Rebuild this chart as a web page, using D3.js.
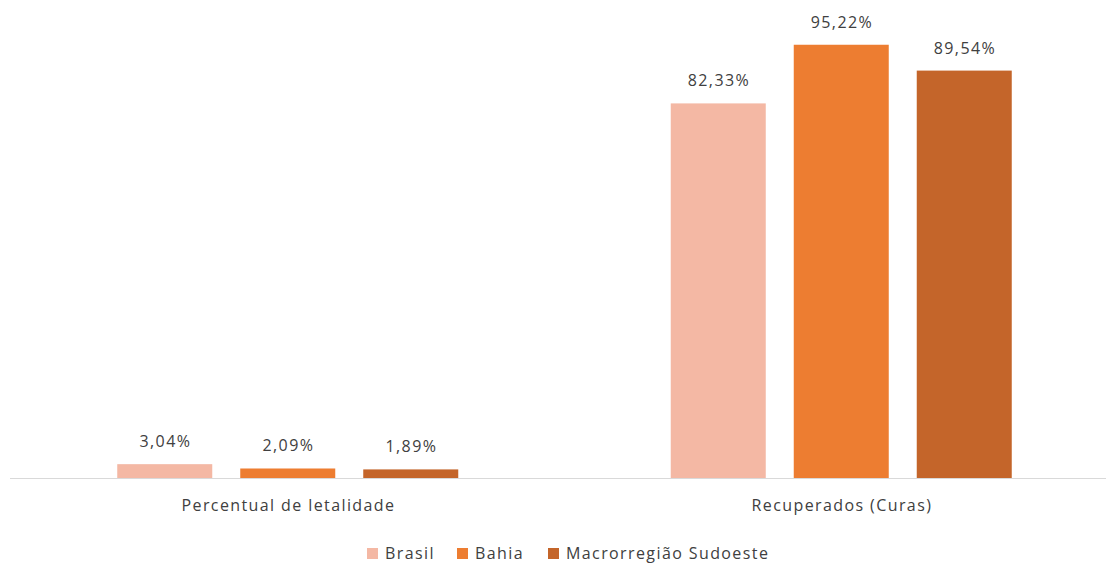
<!DOCTYPE html>
<html>
<head>
<meta charset="utf-8">
<script src="https://cdn.jsdelivr.net/npm/d3@7"></script>
<style>
  body { margin: 0; background: #fff; }
  text { font-family: "Open Sans", sans-serif; fill: #404040; letter-spacing: 1.4px; }
</style>
</head>
<body>
<svg id="svg" width="1106" height="567"></svg>
<script>
// dados
var categorias = ["Percentual de letalidade", "Recuperados (Curas)"]
var series = ["Brasil", "Bahia", "Macrorregião Sudoeste"]
var brasil = [3.04, 82.33]
var bahia = [2.09, 95.22]
var macro = [1.89, 89.54]
var cores = ["#F4B8A4", "#ED7D31", "#C4652A"]

var valores = [brasil, bahia, macro]
var svg = d3.select("svg"),
    width = 1106,
    height = 567

var x0 = d3.scaleBand().domain(categorias).range([11, 1118])
var meio = x0.bandwidth() / 2
var x1 = d3.scaleBand().domain(series).range([meio - 170.5, meio + 170.5])
    .paddingInner(0.2276).paddingOuter(0)
var y = d3.scaleLinear().domain([0, 100]).range([478, 23])
var cor = d3.scaleOrdinal().domain(series).range(cores)

var fmt = function(v) { return d3.format(".2f")(v).replace(".", ",") + "%" }

// eixo
svg.append("line")
  .attr("x1", 10).attr("x2", 1106)
  .attr("y1", y(0) + 0.5).attr("y2", y(0) + 0.5)
  .attr("stroke", "#d9d9d9").attr("stroke-width", 1)

var grupos = svg.selectAll("g.grupo")
  .data(categorias)
  .enter().append("g")
  .attr("class", "grupo")
  .attr("transform", function(d) { return "translate(" + x0(d) + ",0)" })

grupos.selectAll("rect")
  .data(function(d, i) { return series.map(function(s, j) { return {s: s, v: valores[j][i]} }) })
  .enter().append("rect")
  .attr("x", function(d) { return x1(d.s) })
  .attr("width", x1.bandwidth())
  .attr("y", function(d) { return y(d.v) })
  .attr("height", function(d) { return y(0) - y(d.v) })
  .attr("fill", function(d) { return cor(d.s) })

grupos.selectAll("text.rotulo")
  .data(function(d, i) { return series.map(function(s, j) { return {s: s, v: valores[j][i]} }) })
  .enter().append("text")
  .attr("class", "rotulo")
  .attr("x", function(d) { return x1(d.s) + x1.bandwidth() / 2 + 0.7 })
  .attr("y", function(d) { return y(d.v) - 17 })
  .attr("text-anchor", "middle")
  .attr("font-size", 16)
  .text(function(d) { return fmt(d.v) })

// nomes das categorias
svg.selectAll("text.cat")
  .data(categorias)
  .enter().append("text")
  .attr("class", "cat")
  .attr("x", function(d) { return x0(d) + x0.bandwidth() / 2 + 0.7 })
  .attr("y", 511)
  .attr("text-anchor", "middle")
  .attr("font-size", 16)
  .text(function(d) { return d })

// legenda
var leg = svg.append("g")
var lx = [367, 457, 548]
series.forEach(function(s, i) {
  leg.append("rect")
    .attr("x", lx[i]).attr("y", 548)
    .attr("width", 11).attr("height", 11)
    .attr("fill", cor(s))
  leg.append("text")
    .attr("x", lx[i] + 18).attr("y", 559)
    .attr("font-size", 16)
    .text(s)
})
</script>
</body>
</html>
